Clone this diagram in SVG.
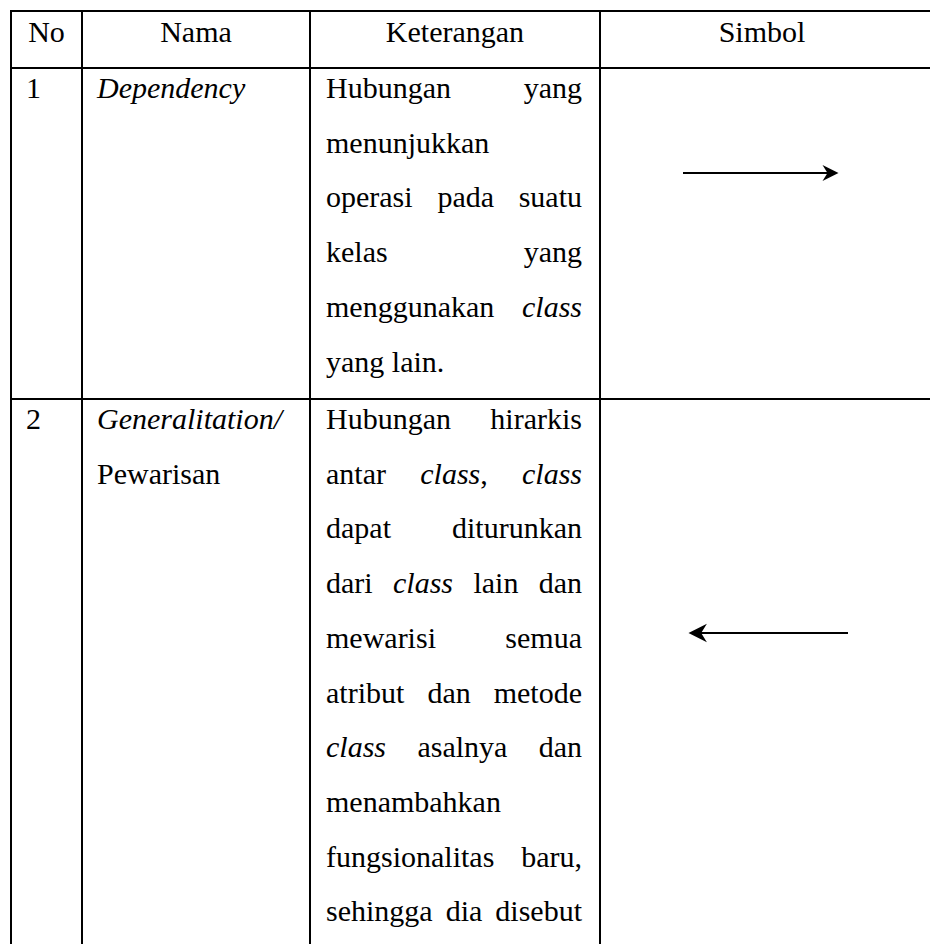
<svg xmlns="http://www.w3.org/2000/svg" width="930" height="944" viewBox="0 0 930 944">
<style>
text{font-family:"Liberation Serif","Times New Roman",serif;font-size:30px;fill:#000}
.i{font-style:italic}
.c{text-anchor:middle}
.e{text-anchor:end}
.grid line{stroke:#000;stroke-width:2}
.conn line{stroke:#000;stroke-width:2}
</style>
<defs>
<path id="head" d="M0,0 L-16,-8 L-11,0 L-16,8 Z" fill="#000"/>
</defs>
<rect width="930" height="944" fill="#fff"/>
<g id="grid" class="grid">
<line x1="10" y1="11" x2="931" y2="11"/>
<line x1="10" y1="68" x2="931" y2="68"/>
<line x1="10" y1="399" x2="931" y2="399"/>
<line x1="11" y1="10" x2="11" y2="945"/>
<line x1="82" y1="10" x2="82" y2="945"/>
<line x1="310" y1="10" x2="310" y2="945"/>
<line x1="600" y1="10" x2="600" y2="945"/>
</g>
<g id="header">
<text x="46.5" y="42" class="c">No</text>
<text x="196" y="42" class="c">Nama</text>
<text x="455" y="42" class="c">Keterangan</text>
<text x="762" y="42" class="c">Simbol</text>
</g>
<g id="row1">
<text x="26" y="98">1</text>
<text x="97" y="98" class="i">Dependency</text>
<text x="326" y="98">Hubungan</text><text x="582" y="98" class="e">yang</text>
<text x="326" y="152.7">menunjukkan</text>
<text x="326" y="207.4">operasi</text><text x="437.4" y="207.4">pada</text><text x="582" y="207.4" class="e">suatu</text>
<text x="326" y="262.1">kelas</text><text x="582" y="262.1" class="e">yang</text>
<text x="326" y="316.8">menggunakan</text><text x="582" y="316.8" class="e i">class</text>
<text x="326" y="371.5">yang lain.</text>
</g>
<g id="row2">
<text x="26" y="429">2</text>
<text x="97" y="429" class="i">Generalitation/</text>
<text x="97" y="483.7">Pewarisan</text>
<text x="326" y="429">Hubungan</text><text x="582" y="429" class="e">hirarkis</text>
<text x="326" y="483.7">antar</text><text x="420.3" y="483.7"><tspan class="i">class</tspan>,</text><text x="582" y="483.7" class="e i">class</text>
<text x="326" y="538.4">dapat</text><text x="582" y="538.4" class="e">diturunkan</text>
<text x="326" y="593.1">dari</text><text x="393" y="593.1" class="i">class</text><text x="473.4" y="593.1">lain</text><text x="582" y="593.1" class="e">dan</text>
<text x="326" y="647.8">mewarisi</text><text x="582" y="647.8" class="e">semua</text>
<text x="326" y="702.5">atribut</text><text x="427.4" y="702.5">dan</text><text x="582" y="702.5" class="e">metode</text>
<text x="326" y="757.2" class="i">class</text><text x="417.4" y="757.2">asalnya</text><text x="582" y="757.2" class="e">dan</text>
<text x="326" y="811.9">menambahkan</text>
<text x="326" y="866.6">fungsionalitas</text><text x="582" y="866.6" class="e">baru,</text>
<text x="326" y="921.3">sehingga</text><text x="445.7" y="921.3">dia</text><text x="582" y="921.3" class="e">disebut</text>
</g>
<g id="connectors" class="conn">
<line x1="683" y1="173" x2="828" y2="173"/>
<use href="#head" transform="translate(838.5,173)"/>
<line x1="848" y1="633" x2="700" y2="633"/>
<use href="#head" transform="translate(688.5,633) rotate(180) scale(1.15)"/>
</g>
</svg>
